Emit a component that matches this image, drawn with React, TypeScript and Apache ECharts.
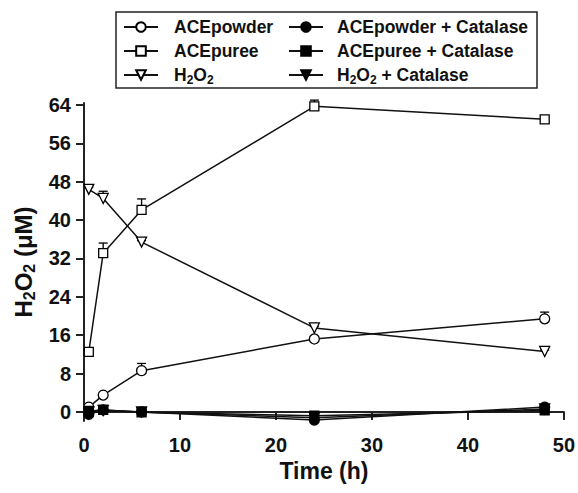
import React, { useEffect, useRef } from "react";
import * as echarts from "echarts";

const time = [0.5, 2, 6, 24, 48];
const acePowder = [1.0, 3.5, 8.6, 15.2, 19.4];
const acePowderSd = [0.3, 0.4, 1.5, 0.5, 1.4];
const acePuree = [12.5, 33.1, 42.1, 63.7, 61.0];
const acePureeSd = [0.3, 2.1, 2.3, 1.3, 0.5];
const h2o2 = [46.4, 44.5, 35.4, 17.5, 12.6];
const h2o2Sd = [0.4, 1.5, 0.3, 0.3, 0.3];
const acePowderCat = [-0.5, 0.4, 0.0, -1.7, 1.0];
const acePureeCat = [0.2, 0.4, -0.1, -0.8, 0.3];
const h2o2Cat = [0.0, 0.3, 0.0, -1.2, 0.6];
const yTicks = [0, 8, 16, 24, 32, 40, 48, 56, 64];
const xTicks = [0, 10, 20, 30, 40, 50];

const FONT = "'Liberation Sans', Arial, sans-serif";

function pairs(vals: number[]) {
  return time.map((t, i) => [t, vals[i]]);
}
function errData(vals: number[], sd: number[]) {
  return time.map((t, i) => [t, vals[i], sd[i]]);
}

function lineSeries(name: string, vals: number[], symbol: string, filled: boolean, rotate = 0) {
  return {
    name,
    type: "line",
    data: pairs(vals),
    symbol,
    symbolSize: symbol === "rect" ? 9 : 10,
    symbolRotate: rotate,
    showAllSymbol: true,
    z: 3,
    lineStyle: { color: "#111", width: 1.5 },
    itemStyle: { color: filled ? "#000" : "#fff", borderColor: "#000", borderWidth: 1.3 },
    emphasis: { disabled: true },
  };
}

function errSeries(vals: number[], sd: number[]) {
  return {
    type: "custom",
    z: 2,
    silent: true,
    data: errData(vals, sd),
    renderItem: (params: any, api: any) => {
      const x = api.value(0);
      const y = api.value(1);
      const e = api.value(2);
      const p0 = api.coord([x, y]);
      const p1 = api.coord([x, y + e]);
      return {
        type: "group",
        children: [
          { type: "line", shape: { x1: p0[0], y1: p0[1], x2: p1[0], y2: p1[1] }, style: { stroke: "#000", lineWidth: 1.3 } },
          { type: "line", shape: { x1: p1[0] - 4.5, y1: p1[1], x2: p1[0] + 4.5, y2: p1[1] }, style: { stroke: "#000", lineWidth: 1.3 } },
        ],
      };
    },
  };
}

const legendFormatter = (name: string) => {
  if (name === "H2O2") return "H{s|2}O{s|2}";
  if (name === "H2O2 + Catalase") return "H{s|2}O{s|2} + Catalase";
  return name;
};

function legend(left: number, data: string[], pad: number) {
  return {
    left,
    top: 12,
    orient: "vertical",
    itemWidth: 34,
    itemHeight: 12,
    itemGap: 4,
    data,
    formatter: legendFormatter,
    selectedMode: false,
    textStyle: {
      fontFamily: FONT,
      fontWeight: "bold",
      fontSize: 17.5,
      color: "#111",
      lineHeight: 20,
      padding: [0, 0, 0, pad],
      rich: { s: { fontFamily: FONT, fontWeight: "bold", fontSize: 12, padding: [9, 0, 0, 0], color: "#111" } },
    },
  };
}

export default function App() {
  const ref = useRef<HTMLDivElement>(null);
  useEffect(() => {
    if (!ref.current) return;
    const chart = echarts.init(ref.current, null, { renderer: "svg" });
    chart.setOption({
      animation: false,
      backgroundColor: "#fff",
      grid: { left: 84, right: 14, top: 103, bottom: 72 },
      legend: [
        legend(118, ["ACEpowder", "ACEpuree", "H2O2"], 11),
        legend(283, ["ACEpowder + Catalase", "ACEpuree + Catalase", "H2O2 + Catalase"], 9),
      ],
      graphic: [
        { type: "rect", shape: { x: 116, y: 12, width: 421, height: 76 }, style: { fill: "none", stroke: "#222", lineWidth: 1.5 }, z: 10 },
      ],
      xAxis: {
        type: "value",
        min: 0,
        max: 50,
        interval: 10,
        name: "Time (h)",
        nameLocation: "middle",
        nameGap: 36,
        nameTextStyle: { fontFamily: FONT, fontWeight: "bold", fontSize: 23, color: "#111" },
        axisLine: { lineStyle: { color: "#222", width: 2 } },
        axisTick: { show: true, length: 8, lineStyle: { color: "#222", width: 2 }, customValues: xTicks },
        axisLabel: { margin: 14, fontFamily: FONT, fontWeight: "bold", fontSize: 20, color: "#111", customValues: xTicks },
        splitLine: { show: false },
      },
      yAxis: {
        type: "value",
        min: -1.9,
        max: 64.4,
        name: "H{s|2}O{s|2} (μM)",
        nameLocation: "middle",
        nameGap: 45,
        nameRotate: 90,
        nameTextStyle: {
          fontFamily: FONT,
          fontWeight: "bold",
          fontSize: 24,
          color: "#111",
          rich: { s: { fontFamily: FONT, fontWeight: "bold", fontSize: 16, padding: [12, 0, 0, 0], color: "#111" } },
        },
        axisLine: { show: true, lineStyle: { color: "#222", width: 2 } },
        axisTick: { show: true, length: 8, lineStyle: { color: "#222", width: 2 }, customValues: yTicks },
        axisLabel: { margin: 13, fontFamily: FONT, fontWeight: "bold", fontSize: 20, color: "#111", customValues: yTicks },
        splitLine: { show: false },
      },
      series: [
        errSeries(acePowder, acePowderSd),
        errSeries(acePuree, acePureeSd),
        errSeries(h2o2, h2o2Sd),
        lineSeries("ACEpowder", acePowder, "circle", false),
        lineSeries("ACEpuree", acePuree, "rect", false),
        lineSeries("H2O2", h2o2, "triangle", false, 180),
        lineSeries("ACEpowder + Catalase", acePowderCat, "circle", true),
        lineSeries("ACEpuree + Catalase", acePureeCat, "rect", true),
        lineSeries("H2O2 + Catalase", h2o2Cat, "triangle", true, 180),
      ],
    });
    return () => chart.dispose();
  }, []);
  return <div ref={ref} style={{ position: "fixed", left: 0, top: 0, width: 578, height: 493 }} />;
}
